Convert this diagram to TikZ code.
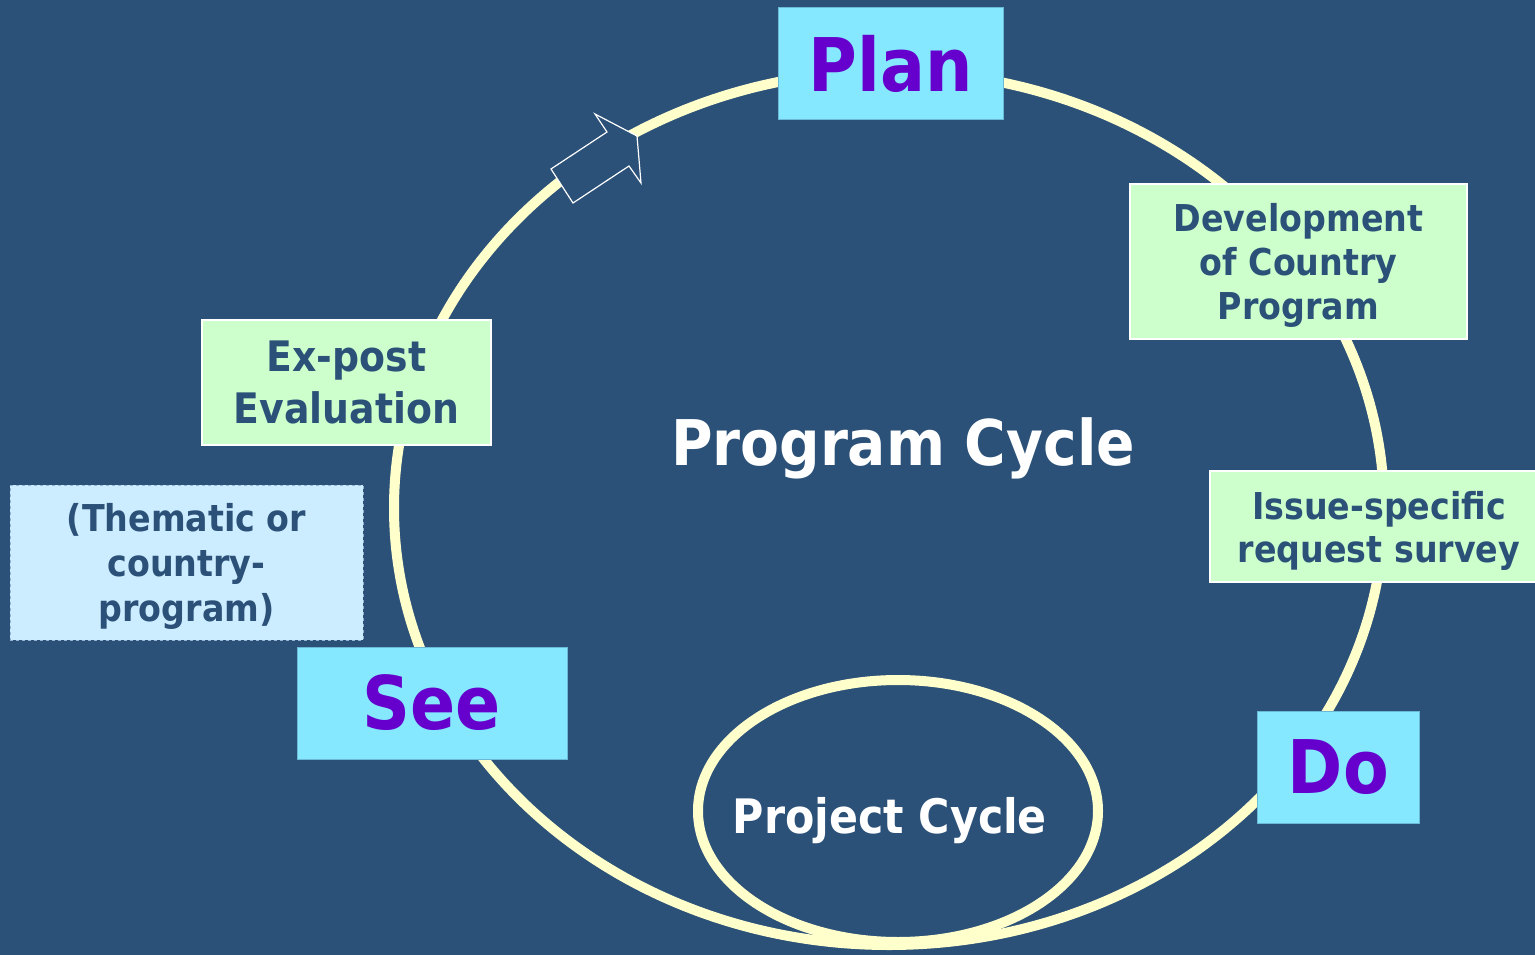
\documentclass[tikz,border=0pt]{standalone}
\usepackage{fontspec}
\newfontfamily\dvc{DejaVu Sans Condensed}
\usetikzlibrary{
  calc
}
\definecolor{bgblue}{RGB}{43,81,120}
\definecolor{cycleyellow}{RGB}{255,255,204}
\definecolor{phasecyan}{RGB}{133,232,255}
\definecolor{phaseedge}{RGB}{105,185,215}
\definecolor{phasepurple}{RGB}{102,0,204}
\definecolor{stepgreen}{RGB}{204,255,204}
\definecolor{notblue}{RGB}{204,236,255}
\definecolor{notedge}{RGB}{150,180,210}

\begin{document}
\begin{tikzpicture}[x=1pt,y=-1pt]
      \tikzstyle{phase}=[fill=phasecyan, draw=phaseedge, line width=1pt, text=phasepurple, inner sep=0pt, font=\dvc\bfseries\fontsize{74}{80}\selectfont]
      \tikzstyle{stepbox}=[fill=stepgreen, draw=white, line width=1.5pt, text=bgblue, align=center, inner sep=0pt, text depth=0pt]
      \tikzstyle{cycle label}=[text=white, anchor=base, inner sep=0pt]

      \clip (0,0) rectangle (1535,955);
      \fill [bgblue] (0,0) rectangle (1535,955);

      % the two cycles
      \draw [cycleyellow, line width=10pt] (889,508) ellipse [x radius=495, y radius=437];
      \draw [cycleyellow, line width=10pt] (898,811) ellipse [x radius=200, y radius=131];

      \draw [white, line width=1.2pt, fill=bgblue] (551,169) -- (607,132) -- (595,114) -- (637,136) -- (641,183) -- (629,166) -- (573,203) -- cycle;

      \node [phase, minimum width=225, minimum height=112] (Plan) at (890.5,63.5){Plan};
      \node [phase, minimum width=162, minimum height=112] (Do) at (1338.5,767){Do};
      \node [phase, minimum width=270, minimum height=112] (See) at (432,703){See};

      \node [stepbox, minimum width=337, minimum height=155, font=\dvc\bfseries\fontsize{37}{44}\selectfont] (Dev) at (1298.5,261.5){Development\\of Country\\Program};
      \node [stepbox, minimum width=338, minimum height=111, font=\dvc\bfseries\fontsize{37}{43}\selectfont] (Iss) at (1379,526.5){Issue-specific\\request survey};
      \node [stepbox, minimum width=289, minimum height=125, font=\dvc\bfseries\fontsize{42}{52}\selectfont] (Exp) at (346.5,382.5){Ex-post\\Evaluation};
      \node [stepbox, fill=notblue, draw=notedge, line width=0.6pt, dashed, minimum width=353, minimum height=155, font=\dvc\bfseries\fontsize{37}{45}\selectfont] (Thm) at (186.5,562.5){(Thematic or\\country-\\program)};

      \node [cycle label, font=\dvc\bfseries\fontsize{63}{70}\selectfont] (PC) at (903,465){Program Cycle};
      \node [cycle label, font=\dvc\bfseries\fontsize{47.5}{55}\selectfont] (PjC) at (890,833){Project Cycle};

    \end{tikzpicture}
\end{document}
